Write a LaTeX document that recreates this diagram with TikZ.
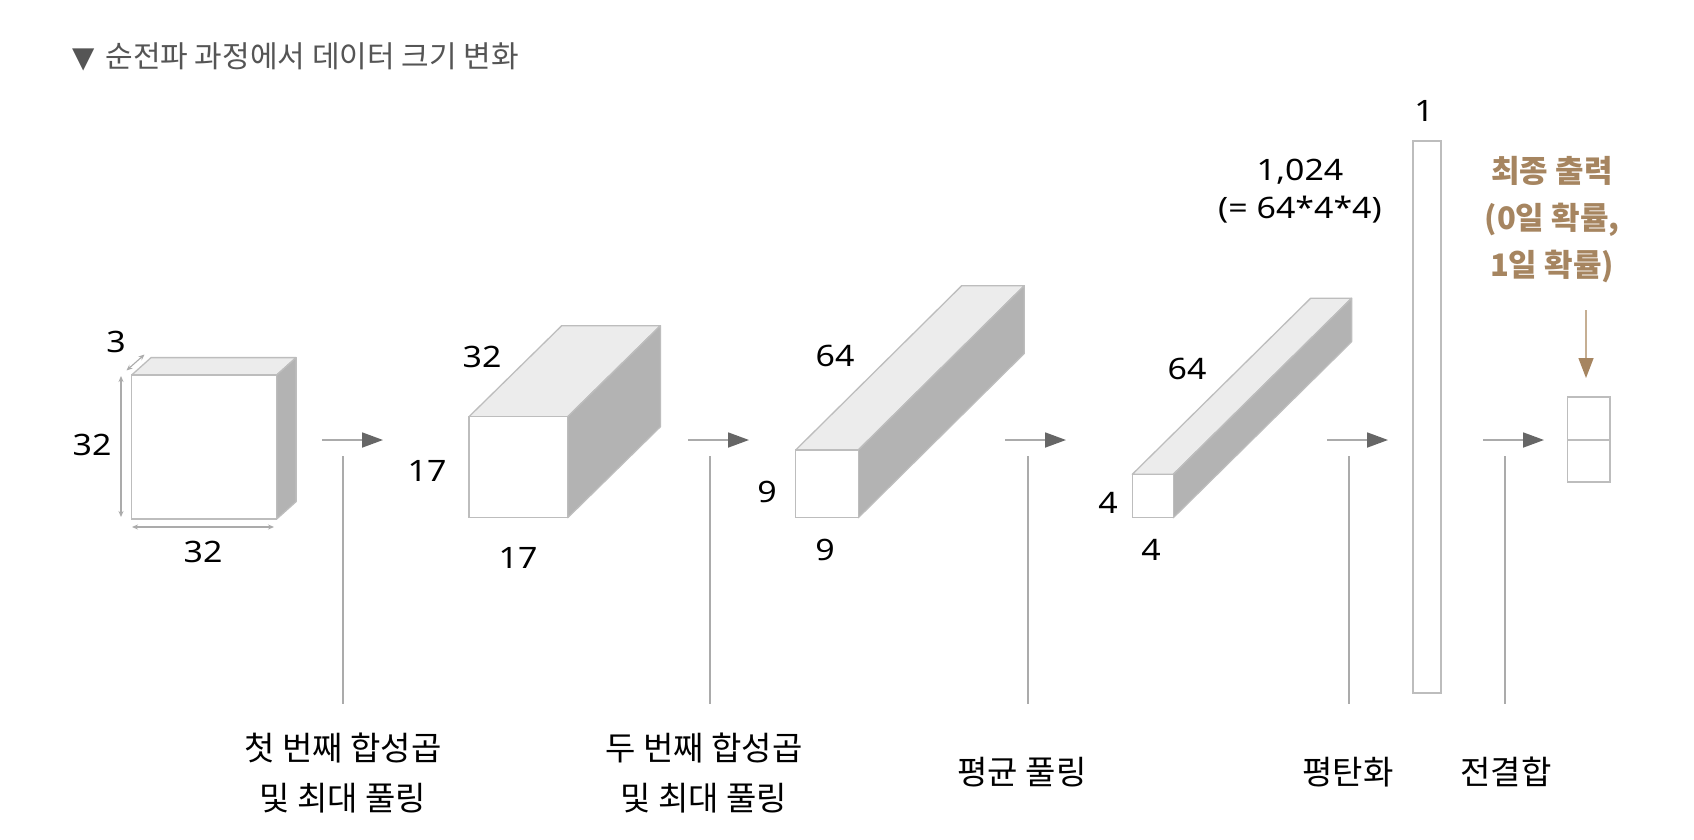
\documentclass[tikz,border=0pt]{standalone}
\usepackage{fontspec}
\setmainfont{Noto Sans CJK KR}
\newfontfamily\numfont[FakeStretch=1.15]{Noto Sans}
\newfontfamily\dvfont{DejaVu Sans}
\usetikzlibrary{arrows.meta}
\definecolor{edgec}{HTML}{BDBDBD}
\definecolor{topc}{HTML}{ECECEC}
\definecolor{sidec}{HTML}{B3B3B3}
\definecolor{linec}{HTML}{ABABAB}
\definecolor{headc}{HTML}{666666}
\definecolor{brownc}{HTML}{A68560}
\definecolor{brownl}{HTML}{C6AF93}
\definecolor{titlec}{HTML}{555555}
\newcommand{\mycuboid}[6]{%
  \filldraw[fill=topc,draw=edgec,line width=1.3pt,line join=round] (#1,#2) -- ({#1+#5},{#2+#6}) -- ({#3+#5},{#2+#6}) -- (#3,#2) -- cycle;
  \filldraw[fill=sidec,draw=edgec,line width=1.3pt,line join=round] (#3,#2) -- ({#3+#5},{#2+#6}) -- ({#3+#5},{#4+#6}) -- (#3,#4) -- cycle;
  \filldraw[fill=white,draw=edgec,line width=1.3pt] (#1,#2) rectangle (#3,#4);
}
\tikzset{
  num/.style={font=\numfont\fontsize{29.5}{36}\selectfont, text=black, inner sep=0pt},
  lab/.style={font=\fontsize{33}{50}\selectfont, text=black, align=center, inner sep=0pt},
  flow/.style={draw=linec, line width=1.8pt, -{Triangle[length=21pt,width=15pt,color=headc]}},
  stem/.style={draw=linec, line width=2.4pt},
  dim/.style={draw=linec, line width=1.1pt, {Stealth[length=6pt,width=5pt]}-{Stealth[length=6pt,width=5pt]}},
}
\begin{document}
\begin{tikzpicture}[x=1pt,y=-1pt]
\useasboundingbox (0,0) rectangle (1694,840);
\fill[white] (0,0) rectangle (1694,840);

% title
\node[anchor=west, inner sep=0pt, text=titlec, font=\fontsize{30}{36}\selectfont] (title) at (72,57) {{\dvfont\fontsize{29}{34}\selectfont ▼}\hspace{11pt}순전파 과정에서 데이터 크기 변화};

% cuboids
\mycuboid{131.7}{375}{276.7}{519}{19.4}{-17.4}
\mycuboid{469}{416.7}{567.7}{517.7}{92.7}{-91}
\mycuboid{795.7}{450}{858.3}{517.7}{166}{-164.3}
\mycuboid{1132.3}{474.3}{1173.3}{517.7}{178.3}{-176}

% dimension arrows of first block
\coordinate (d1a) at (121,376); \coordinate (d1b) at (121,517);
\coordinate (d2a) at (132,527); \coordinate (d2b) at (274,527);
\coordinate (d3a) at (126.5,370.5); \coordinate (d3b) at (144.5,354.5);
\draw[dim] (d1a) -- (d1b);
\draw[dim] (d2a) -- (d2b);
\draw[dim] (d3a) -- (d3b);

% numbers
\node[num] (n3) at (116,342) {3};
\node[num] (n32a) at (92,445) {32};
\node[num] (n32b) at (203,552) {32};
\node[num] (n32c) at (482,357) {32};
\node[num] (n17a) at (427,471) {17};
\node[num] (n17b) at (518,558) {17};
\node[num] (n64a) at (835,356) {64};
\node[num] (n9a) at (767,492) {9};
\node[num] (n9b) at (825,550) {9};
\node[num] (n64b) at (1187,369) {64};
\node[num] (n4a) at (1108,503) {4};
\node[num] (n4b) at (1151,550) {4};
\node[num] (n1) at (1424,111) {1};
\node[num] (n1024) at (1300,172) {1,024};
\node[num] (neq) at (1300,210) {(= 64*4*4)};

% flatten bar
\draw[edgec, line width=1.3pt] (1413,141) rectangle (1441,693);

% output box
\draw[edgec, line width=1.3pt] (1567.5,397) rectangle (1610,482);
\draw[edgec, line width=1.3pt] (1567.5,440) -- (1610,440);
\coordinate (outtop) at (1586,378);

% brown annotation
\node[font=\fontsize{31}{47}\selectfont\bfseries, text=brownc, align=center, inner sep=0pt] (final) at (1552,220) {최종 출력\\(0일 확률,\\1일 확률)};
\coordinate (bstart) at (1586,310);
\draw[draw=brownl, line width=1.4pt, -{Triangle[length=20pt,width=15pt,color=brownc]}] (bstart) -- (outtop);

% flow arrows
\coordinate (a1s) at (322,440); \coordinate (a1e) at (383,440);
\coordinate (a2s) at (688,440); \coordinate (a2e) at (749,440);
\coordinate (a3s) at (1005,440); \coordinate (a3e) at (1066,440);
\coordinate (a4s) at (1327,440); \coordinate (a4e) at (1388,440);
\coordinate (a5s) at (1483,440); \coordinate (a5e) at (1544,440);
\foreach \i in {1,...,5} { \draw[flow] (a\i s) -- (a\i e); }

% stems
\coordinate (s1t) at (343,456); \coordinate (s1b) at (343,704);
\coordinate (s2t) at (710,456); \coordinate (s2b) at (710,704);
\coordinate (s3t) at (1028,456); \coordinate (s3b) at (1028,704);
\coordinate (s4t) at (1349,456); \coordinate (s4b) at (1349,704);
\coordinate (s5t) at (1505,456); \coordinate (s5b) at (1505,704);
\foreach \i in {1,...,5} { \draw[stem] (s\i t) -- (s\i b); }

% bottom labels
\node[lab] (l1) at (343,773) {첫 번째 합성곱\\및 최대 풀링};
\node[lab] (l2) at (704,773) {두 번째 합성곱\\및 최대 풀링};
\node[lab] (l3) at (1022,772) {평균 풀링};
\node[lab] (l4) at (1348,772) {평탄화};
\node[lab] (l5) at (1506,772) {전결합};
\end{tikzpicture}
\end{document}
